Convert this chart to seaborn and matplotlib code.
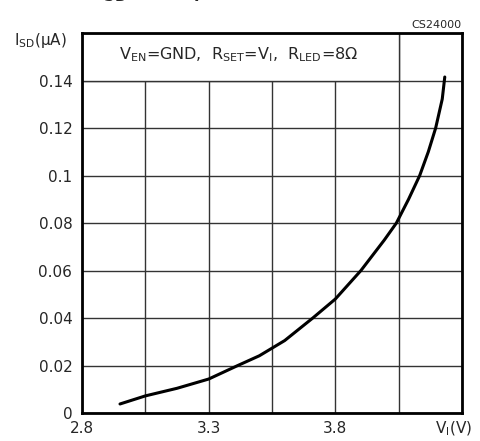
import numpy as np
import pandas as pd
import matplotlib
matplotlib.use("Agg")
import matplotlib.pyplot as plt
import seaborn as sns
from matplotlib.patches import Rectangle

# curve
vi = [2.950, 3.05, 3.175, 3.30, 3.415, 3.50, 3.60, 3.711, 3.80, 3.901,
      3.993, 4.041, 4.089, 4.133, 4.167, 4.196, 4.222, 4.232]
isd = [0.0038, 0.0072, 0.0104, 0.0143, 0.0200, 0.0241, 0.0305, 0.0400, 0.0480, 0.0600,
       0.0728, 0.0800, 0.0900, 0.1000, 0.1100, 0.1200, 0.1322, 0.1415]

x_ticks = [2.8, 3.05, 3.3, 3.55, 3.8, 4.05, 4.3]
x_labels = ["2.8", "", "3.3", "", "3.8", "", ""]
y_ticks = [0, 0.02, 0.04, 0.06, 0.08, 0.1, 0.12, 0.14, 0.16]
y_labels = ["0", "0.02", "0.04", "0.06", "0.08", "0.1", "0.12", "0.14", ""]

df = pd.DataFrame({"VI": vi, "ISD": isd})

sns.set_style("white")
plt.rcParams['font.family'] = ['DejaVu Sans']
plt.rcParams['mathtext.fontset'] = 'dejavusans'

fig = plt.figure(figsize=(4.81, 4.41), dpi=100)
ax = fig.add_axes([0.1705, 0.0635, 0.790, 0.8615])

ax.grid(True, color='#333333', linewidth=1.0)
ax.set_axisbelow(True)
sns.lineplot(data=df, x="VI", y="ISD", ax=ax, color='black', linewidth=2.2, zorder=3)

ax.add_patch(Rectangle((2.8, 0.14), 1.25, 0.02, facecolor='white',
                       edgecolor='#333333', linewidth=1.0, zorder=2))

ax.set_xlim(2.8, 4.3)
ax.set_ylim(0, 0.16)
ax.set_xticks(x_ticks)
ax.set_xticklabels(x_labels, fontsize=11)
ax.set_yticks(y_ticks)
ax.set_yticklabels(y_labels, fontsize=11)
ax.tick_params(axis='x', length=0, pad=6)
ax.tick_params(axis='y', length=0, pad=7)
ax.set_xlabel("")
ax.set_ylabel("")
for s in ax.spines.values():
    s.set_color('black')
    s.set_linewidth(2)

ax.text(4.265, -0.0068, r"V$_\mathrm{I}$(V)", fontsize=11, ha='center', va='center')
fig.text(0.083, 0.908, "I$_\\mathrm{SD}$(μA)", fontsize=11, ha='center', va='center')
fig.text(0.96, 0.944, "CS24000", fontsize=8, ha='right', va='center')
ax.text(3.42, 0.151, r"V$_\mathrm{EN}$=GND,  R$_\mathrm{SET}$=V$_\mathrm{I}$,  R$_\mathrm{LED}$=8$\Omega$",
        fontsize=11.5, ha='center', va='center', zorder=4)

# title, clipped at the very top as in the reference
fig.text(0.2, 0.99, r"$\mathbf{I_{SD}}$  vs  $\mathbf{V_I}$", fontsize=15, ha='left', va='bottom')

fig.savefig("out.png", dpi=100)
